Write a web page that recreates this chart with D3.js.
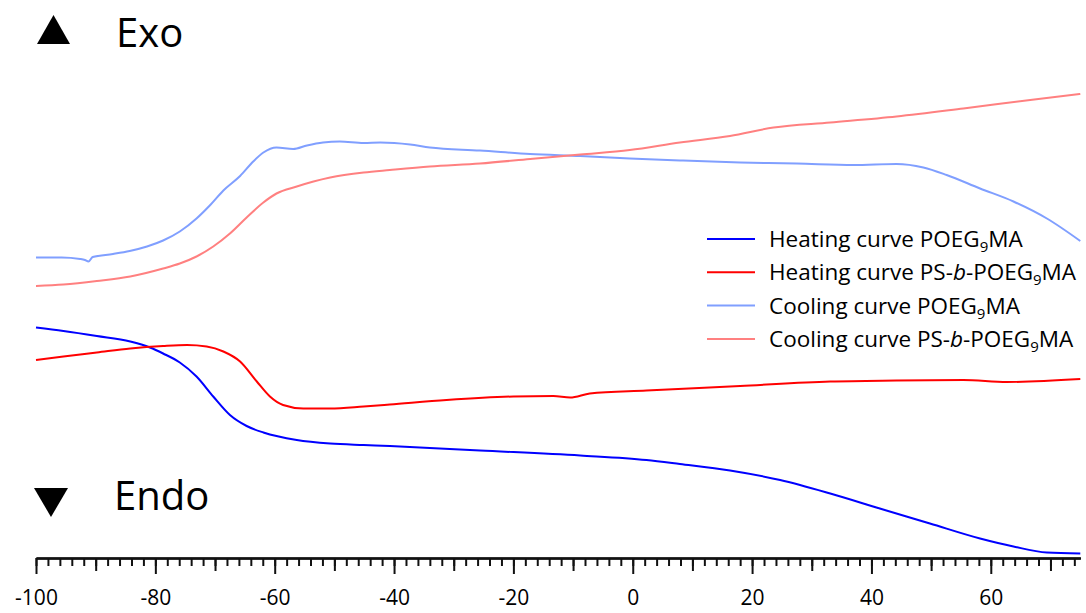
<!DOCTYPE html>
<html>
<head>
<meta charset="utf-8">
<script src="https://cdn.jsdelivr.net/npm/d3@7"></script>
<style>
  body { margin: 0; background: #fff; }
  text { font-family: "Open Sans", "DejaVu Sans", sans-serif; fill: #000; }
</style>
</head>
<body>
<div id="chart"></div>
<script>
// temperature (°C) and heat flow (a.u., exo up)
const coolPoegT = [-100, -95.7, -92.6, -91.8, -91.2, -90.5, -87.1, -84.3, -81.4, -78.7, -75.9, -73.1, -70.8, -68.6, -65.8, -63.6, -61.9, -59.7, -56.9, -54.6, -51.9, -49.1, -45.1, -42.3, -37.3, -34.0, -25.6, -17.2, -8.8, -0.5, 7.9, 18.0, 27.5, 37.0, 44.2, 48.7, 52.6, 58.2, 63.8, 69.4, 75];
const coolPoegV = [59.9, 59.9, 59.6, 59.4, 59.1, 60.0, 60.6, 61.2, 62.1, 63.3, 65.1, 67.7, 70.4, 73.3, 76.2, 79.1, 80.9, 81.9, 81.6, 82.3, 82.9, 83.1, 82.8, 82.9, 82.5, 81.9, 81.3, 80.6, 80.2, 79.7, 79.3, 78.9, 78.7, 78.4, 78.6, 77.9, 76.4, 73.7, 71.1, 67.7, 63.2];

const coolBlockT = [-100, -95.4, -89.8, -84.2, -78.7, -75.9, -73.1, -70.3, -67.5, -64.7, -61.9, -59.7, -56.3, -53.5, -50.7, -45.1, -40.7, -34.0, -25.6, -17.2, -8.8, -0.5, 7.9, 16.3, 23.6, 33.1, 44.2, 55.4, 66.6, 75];
const coolBlockV = [54.2, 54.5, 55.2, 56.1, 57.7, 58.7, 60.1, 62.1, 64.7, 67.9, 70.9, 72.7, 74.1, 75.1, 75.9, 76.9, 77.4, 78.1, 78.7, 79.6, 80.5, 81.4, 82.9, 84.2, 85.9, 86.9, 88.1, 89.7, 91.4, 92.6];

const heatPoegT = [-100, -95.4, -89.8, -84.2, -80.9, -78.7, -75.9, -73.1, -70.3, -67.5, -64.7, -61.9, -56.3, -50.7, -45.1, -40.7, -25.6, -8.8, 2.3, 7.9, 16.3, 24.7, 33.1, 41.4, 49.8, 58.2, 63.8, 69.4, 75];
const heatPoegV = [45.9, 45.2, 44.2, 43.1, 41.9, 40.7, 38.9, 36.1, 32.1, 28.4, 26.2, 24.9, 23.4, 22.7, 22.4, 22.2, 21.3, 20.3, 19.4, 18.6, 17.3, 15.4, 12.7, 9.7, 6.7, 3.7, 2.1, 0.9, 0.7];

const heatBlockT = [-100, -95.4, -89.8, -84.2, -78.7, -74.7, -71.4, -68.6, -65.8, -63.0, -60.8, -58.6, -55.2, -50.7, -45.1, -40.7, -31.2, -20.0, -13.3, -10.5, -7.2, 2.3, 18.0, 33.1, 44.2, 55.4, 62.7, 75];
const heatBlockV = [39.4, 40.1, 40.9, 41.7, 42.2, 42.4, 42.1, 41.1, 39.1, 35.1, 32.1, 30.4, 29.7, 29.7, 30.1, 30.5, 31.4, 32.1, 32.2, 31.9, 32.7, 33.3, 34.2, 35.1, 35.3, 35.4, 35.0, 35.6];

const seriesNames = ["Heating curve POEG|9|MA", "Heating curve PS-*b*-POEG|9|MA", "Cooling curve POEG|9|MA", "Cooling curve PS-*b*-POEG|9|MA"];
const seriesColors = ["#0000ff", "#ff0000", "#809fff", "#ff8080"];

const width = 1086, height = 613;

const series = [
  { T: heatPoegT, V: heatPoegV },
  { T: heatBlockT, V: heatBlockV },
  { T: coolPoegT, V: coolPoegV },
  { T: coolBlockT, V: coolBlockV }
];

const x = d3.scaleLinear().domain([-100, 75]).range([36, 1080.3]);
const y = d3.scaleLinear().domain([0, 100]).range([557, 57]);

const svg = d3.select('#chart')
    .append('svg')
    .attr('width', width)
    .attr('height', height);

const line = d3.line()
    .x(d => x(d[0]))
    .y(d => y(d[1]))
    .curve(d3.curveMonotoneX);

// cooling traces drawn first so heating traces sit on top
[2, 3, 0, 1].forEach(i => {
  const s = series[i];
  svg.append('path')
      .datum(s.T.map((t, j) => [t, s.V[j]]))
      .attr('fill', 'none')
      .attr('stroke', seriesColors[i])
      .attr('stroke-width', 2)
      .attr('stroke-linejoin', 'round')
      .attr('d', line);
});

// x axis: minor every 2, medium every 10, major (labelled) every 20
const axisY = 558;
const minor = d3.axisBottom(x)
    .tickValues(d3.range(-100, 76, 2))
    .tickSize(8).tickSizeOuter(0).tickFormat('');
const medium = d3.axisBottom(x)
    .tickValues(d3.range(-90, 76, 20))
    .tickSize(13).tickSizeOuter(0).tickFormat('');
const major = d3.axisBottom(x)
    .tickValues(d3.range(-100, 76, 20))
    .tickSize(16).tickSizeOuter(0).tickPadding(16)
    .tickFormat(d => String(d));

[minor, medium, major].forEach(ax => {
  const g = svg.append('g')
      .attr('transform', `translate(0,${axisY})`)
      .call(ax);
  g.select('.domain').attr('stroke', '#111').attr('stroke-width', 2);
  g.selectAll('.tick line').attr('stroke', '#111').attr('stroke-width', 2);
  g.selectAll('.tick text')
      .attr('font-family', '"DejaVu Sans", sans-serif')
      .attr('font-size', 21)
      .attr('fill', '#000');
});

// Exo / Endo markers
svg.append('path')
    .attr('d', d3.line()([[37, 44], [70, 44], [53.5, 15]]) + 'Z')
    .attr('fill', '#000');
svg.append('text')
    .attr('x', 116).attr('y', 47)
    .attr('font-size', 40)
    .text('Exo');

svg.append('path')
    .attr('d', d3.line()([[34, 488], [68, 488], [51, 517]]) + 'Z')
    .attr('fill', '#000');
svg.append('text')
    .attr('x', 114).attr('y', 510)
    .attr('font-size', 40)
    .text('Endo');

// legend
const legend = svg.append('g');
seriesNames.forEach((name, i) => {
  const ly = 239 + i * 33.3;
  legend.append('line')
      .attr('x1', 707).attr('x2', 755)
      .attr('y1', ly).attr('y2', ly)
      .attr('stroke', seriesColors[i])
      .attr('stroke-width', 2);
  const t = legend.append('text')
      .attr('x', 769).attr('y', ly + 8)
      .attr('font-size', 22.5);
  // "|9|" marks a subscript, "*b*" marks italic
  let shift = 0;
  name.split(/(\|[^|]+\||\*[^*]+\*)/).filter(p => p).forEach(p => {
    const ts = t.append('tspan');
    if (p.startsWith('|')) {
      ts.attr('font-size', 15).attr('dy', 5).text(p.slice(1, -1));
      shift = -5;
      return;
    }
    if (shift) ts.attr('dy', shift);
    shift = 0;
    if (p.startsWith('*')) ts.attr('font-style', 'italic').text(p.slice(1, -1));
    else ts.text(p);
  });
});
</script>
</body>
</html>
